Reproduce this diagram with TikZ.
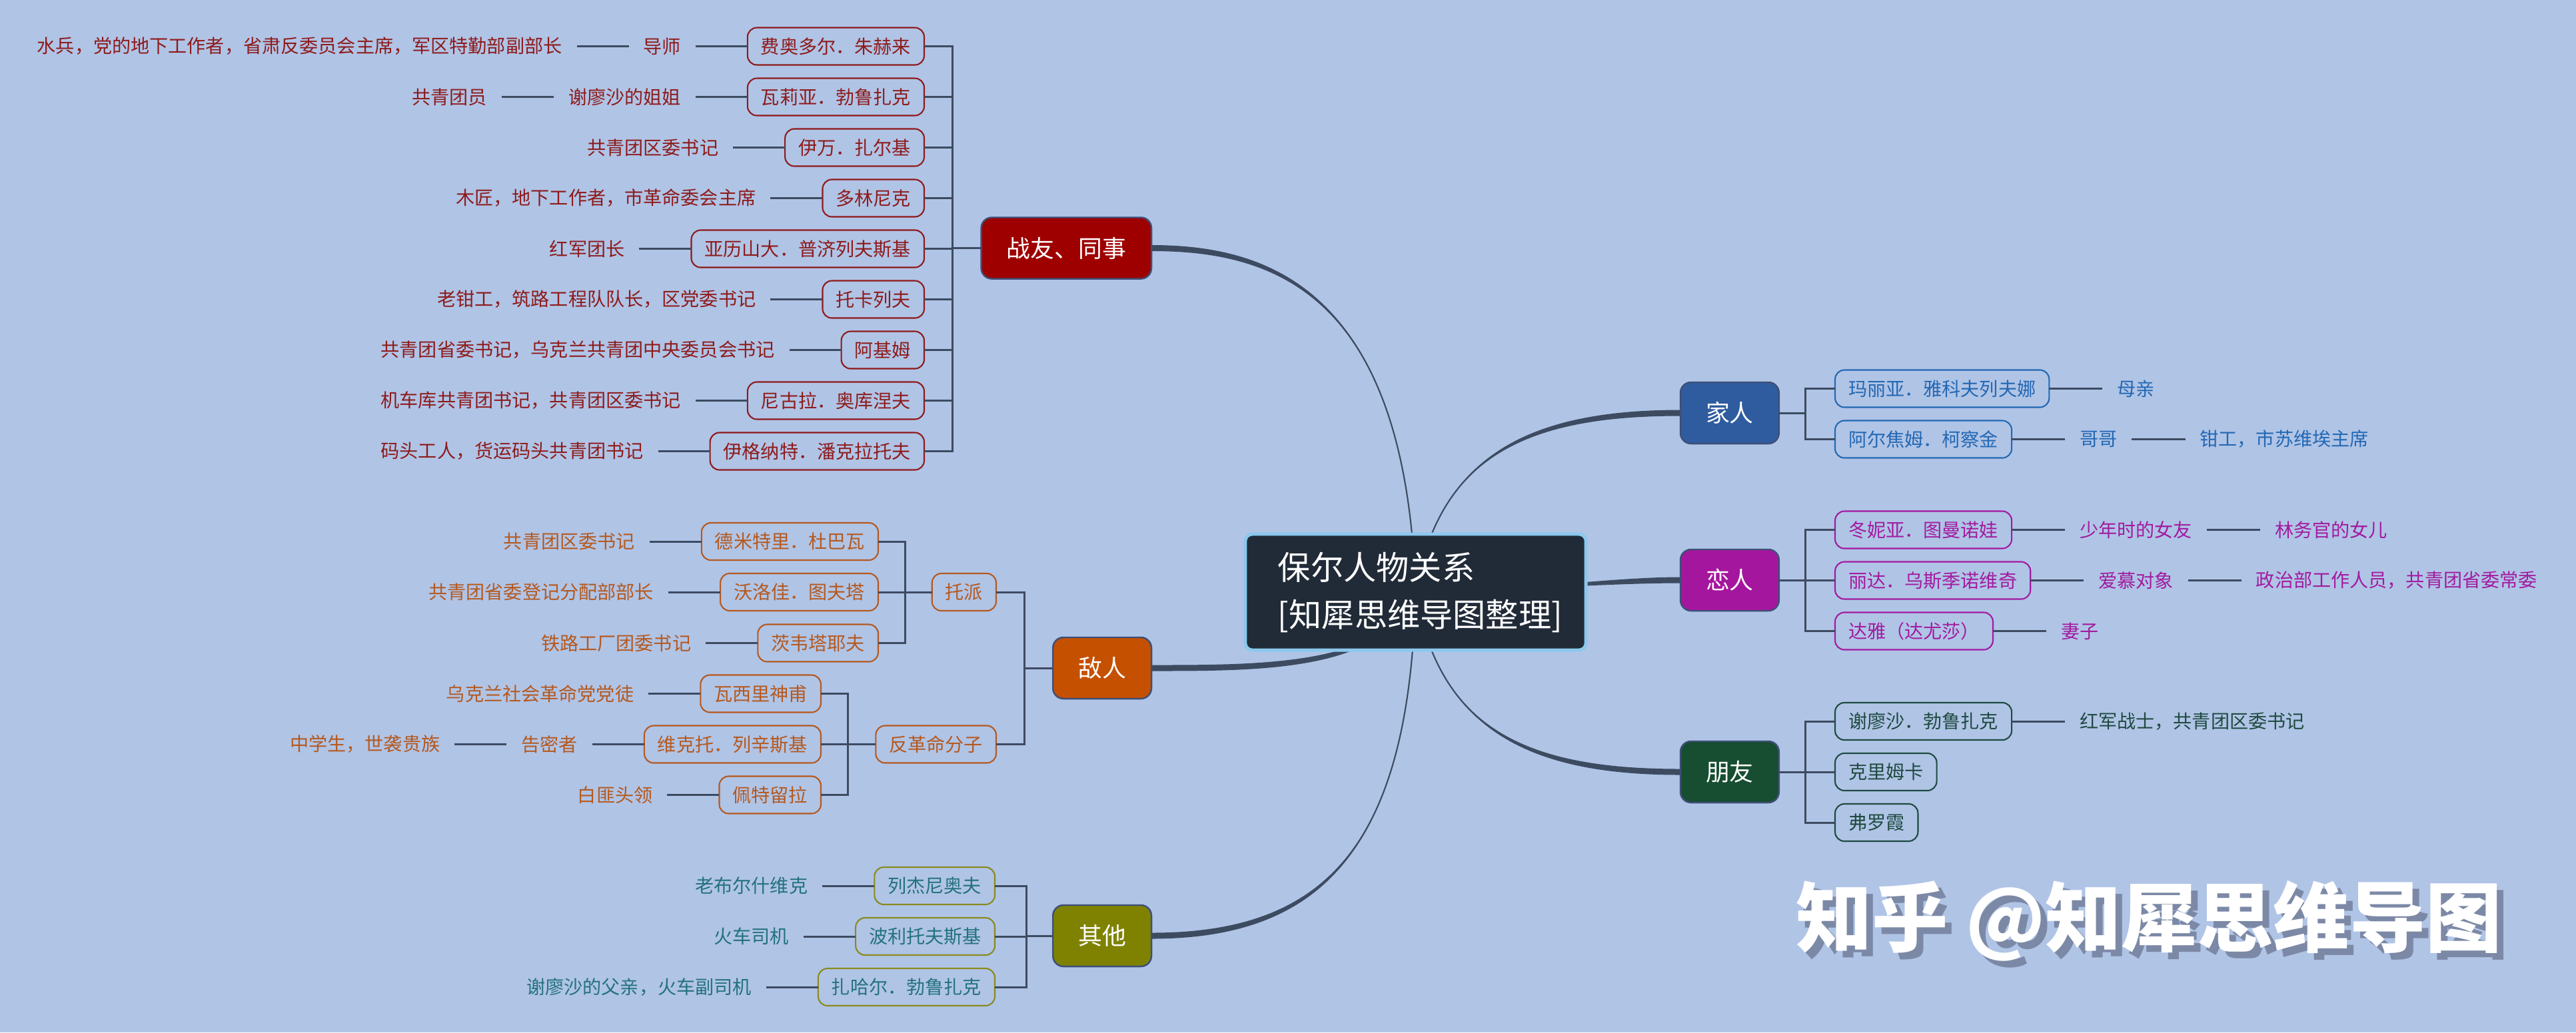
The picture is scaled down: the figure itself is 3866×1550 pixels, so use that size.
\documentclass[tikz,border=0pt]{standalone}
\usepackage{fontspec}
\setmainfont{Noto Sans CJK SC}
\usetikzlibrary{backgrounds}
\definecolor{bgc}{HTML}{B0C4E6}
\definecolor{linec}{HTML}{3D4B61}
\definecolor{catbd}{HTML}{3E4F78}
\definecolor{zyfill}{HTML}{9E0000}
\definecolor{zyc}{HTML}{8E1B1B}
\definecolor{drfill}{HTML}{C55000}
\definecolor{drc}{HTML}{B5591F}
\definecolor{qtfill}{HTML}{7F8200}
\definecolor{qtc}{HTML}{23727D}
\definecolor{qtbd}{HTML}{8A8A1E}
\definecolor{jrfill}{HTML}{2E5C9E}
\definecolor{jrc}{HTML}{2368B3}
\definecolor{lrfill}{HTML}{A5169E}
\definecolor{lrc}{HTML}{A21BA0}
\definecolor{pyfill}{HTML}{174D30}
\definecolor{pyc}{HTML}{1F4A40}
\definecolor{mainc}{HTML}{212B38}
\definecolor{mainbd}{HTML}{8CC8EE}
\definecolor{shadowc}{HTML}{7C89A6}
\begin{document}
\begin{tikzpicture}[x=0.01cm,y=-0.01cm,
  conn/.style={draw=linec, line width=0.85pt},
  catbox/.style={rounded corners=4.5pt, minimum height=0.92cm, inner xsep=0.38cm, inner ysep=0pt, outer sep=0pt, text=white, font=\fontsize{10.2}{12}\selectfont, draw=catbd, line width=0.7pt},
  kid/.style={rounded corners=4pt, minimum height=0.56cm, inner xsep=0.2cm, inner ysep=0pt, outer sep=0pt, line width=0.6pt, font=\fontsize{8}{9.6}\selectfont},
  lbl/.style={inner xsep=0.22cm, inner ysep=0pt, outer sep=0pt, font=\fontsize{8}{9.6}\selectfont},
  zk/.style={kid, draw=zyc, text=zyc}, zl/.style={lbl, text=zyc},
  dk/.style={kid, draw=drc, text=drc}, dl/.style={lbl, text=drc},
  qk/.style={kid, draw=qtbd, text=qtc}, ql/.style={lbl, text=qtc},
  jk/.style={kid, draw=jrc, text=jrc}, jl/.style={lbl, text=jrc},
  lk/.style={kid, draw=lrc, text=lrc}, ll/.style={lbl, text=lrc},
  pk/.style={kid, draw=pyc, text=pyc}, pl/.style={lbl, text=pyc},
  mainbox/.style={fill=mainc, draw=mainbd, line width=1.4pt, rounded corners=3pt, text=white, align=left, text width=4.13cm, inner xsep=0.49cm, inner ysep=0pt, minimum height=1.74cm, outer sep=0pt, font=\fontsize{14}{20.2}\selectfont},
  wmark/.style={font=\fontsize{32.5}{36}\selectfont\bfseries, inner sep=0pt}
]
\useasboundingbox (0,0) rectangle (3866,1550);

% main node
\node[mainbox] (m) at (2124.5,889) {保尔人物关系\\{[}知犀思维导图整理{]}};

% ---------- 战友、同事 ----------
\node[catbox, fill=zyfill, anchor=east] (zy) at (1728,372.5) {战友、同事};
\node[zk, anchor=east] (z1) at (1387,69.5) {费奥多尔．朱赫来};
\node[zk, anchor=east] (z2) at (1387,145.5) {瓦莉亚．勃鲁扎克};
\node[zk, anchor=east] (z3) at (1387,221.5) {伊万．扎尔基};
\node[zk, anchor=east] (z4) at (1387,297.5) {多林尼克};
\node[zk, anchor=east] (z5) at (1387,373.5) {亚历山大．普济列夫斯基};
\node[zk, anchor=east] (z6) at (1387,449.5) {托卡列夫};
\node[zk, anchor=east] (z7) at (1387,525.5) {阿基姆};
\node[zk, anchor=east] (z8) at (1387,601.5) {尼古拉．奥库涅夫};
\node[zk, anchor=east] (z9) at (1387,677.5) {伊格纳特．潘克拉托夫};
\foreach \c in {z1,z2,z3,z4,z5,z6,z7,z8,z9} \draw[conn] (zy.west) -- ++(-43,0) |- (\c.east);

\node[zl, anchor=east] (z1a) at ([xshift=-0.78cm]z1.west) {导师};
\node[zl, anchor=east] (z1b) at ([xshift=-0.78cm]z1a.west) {水兵，党的地下工作者，省肃反委员会主席，军区特勤部副部长};
\node[zl, anchor=east] (z2a) at ([xshift=-0.78cm]z2.west) {谢廖沙的姐姐};
\node[zl, anchor=east] (z2b) at ([xshift=-0.78cm]z2a.west) {共青团员};
\node[zl, anchor=east] (z3a) at ([xshift=-0.78cm]z3.west) {共青团区委书记};
\node[zl, anchor=east] (z4a) at ([xshift=-0.78cm]z4.west) {木匠，地下工作者，市革命委会主席};
\node[zl, anchor=east] (z5a) at ([xshift=-0.78cm]z5.west) {红军团长};
\node[zl, anchor=east] (z6a) at ([xshift=-0.78cm]z6.west) {老钳工，筑路工程队队长，区党委书记};
\node[zl, anchor=east] (z7a) at ([xshift=-0.78cm]z7.west) {共青团省委书记，乌克兰共青团中央委员会书记};
\node[zl, anchor=east] (z8a) at ([xshift=-0.78cm]z8.west) {机车库共青团书记，共青团区委书记};
\node[zl, anchor=east] (z9a) at ([xshift=-0.78cm]z9.west) {码头工人，货运码头共青团书记};
\draw[conn] (z1.west) -- (z1a.east);
\draw[conn] (z1a.west) -- (z1b.east);
\draw[conn] (z2.west) -- (z2a.east);
\draw[conn] (z2a.west) -- (z2b.east);
\draw[conn] (z3.west) -- (z3a.east);
\draw[conn] (z4.west) -- (z4a.east);
\draw[conn] (z5.west) -- (z5a.east);
\draw[conn] (z6.west) -- (z6a.east);
\draw[conn] (z7.west) -- (z7a.east);
\draw[conn] (z8.west) -- (z8a.east);
\draw[conn] (z9.west) -- (z9a.east);

% ---------- 敌人 ----------
\node[catbox, fill=drfill, anchor=east] (dr) at (1728,1003) {敌人};
\node[dk, anchor=east] (tp) at (1495,889) {托派};
\node[dk, anchor=east] (fg) at (1495,1117.5) {反革命分子};
\draw[conn] (dr.west) -- ++(-43,0) |- (tp.east);
\draw[conn] (dr.west) -- ++(-43,0) |- (fg.east);
\node[dk, anchor=east] (d1) at (1318,813) {德米特里．杜巴瓦};
\node[dk, anchor=east] (d2) at (1318,889) {沃洛佳．图夫塔};
\node[dk, anchor=east] (d3) at (1318,965.5) {茨韦塔耶夫};
\foreach \c in {d1,d2,d3} \draw[conn] (tp.west) -- ++(-40,0) |- (\c.east);
\node[dk, anchor=east] (d4) at (1232,1041.5) {瓦西里神甫};
\node[dk, anchor=east] (d5) at (1232,1117.5) {维克托．列辛斯基};
\node[dk, anchor=east] (d6) at (1232,1193.5) {佩特留拉};
\foreach \c in {d4,d5,d6} \draw[conn] (fg.west) -- ++(-42,0) |- (\c.east);
\node[dl, anchor=east] (d1a) at ([xshift=-0.78cm]d1.west) {共青团区委书记};
\node[dl, anchor=east] (d2a) at ([xshift=-0.78cm]d2.west) {共青团省委登记分配部部长};
\node[dl, anchor=east] (d3a) at ([xshift=-0.78cm]d3.west) {铁路工厂团委书记};
\node[dl, anchor=east] (d4a) at ([xshift=-0.78cm]d4.west) {乌克兰社会革命党党徒};
\node[dl, anchor=east] (d5a) at ([xshift=-0.78cm]d5.west) {告密者};
\node[dl, anchor=east] (d5b) at ([xshift=-0.78cm]d5a.west) {中学生，世袭贵族};
\node[dl, anchor=east] (d6a) at ([xshift=-0.78cm]d6.west) {白匪头领};
\draw[conn] (d1.west) -- (d1a.east);
\draw[conn] (d2.west) -- (d2a.east);
\draw[conn] (d3.west) -- (d3a.east);
\draw[conn] (d4.west) -- (d4a.east);
\draw[conn] (d5.west) -- (d5a.east);
\draw[conn] (d5a.west) -- (d5b.east);
\draw[conn] (d6.west) -- (d6a.east);

% ---------- 其他 ----------
\node[catbox, fill=qtfill, anchor=east] (qt) at (1728,1405) {其他};
\node[qk, anchor=east] (q1) at (1493,1330) {列杰尼奥夫};
\node[qk, anchor=east] (q2) at (1493,1406) {波利托夫斯基};
\node[qk, anchor=east] (q3) at (1493,1482) {扎哈尔．勃鲁扎克};
\foreach \c in {q1,q2,q3} \draw[conn] (qt.west) -- ++(-40,0) |- (\c.east);
\node[ql, anchor=east] (q1a) at ([xshift=-0.78cm]q1.west) {老布尔什维克};
\node[ql, anchor=east] (q2a) at ([xshift=-0.78cm]q2.west) {火车司机};
\node[ql, anchor=east] (q3a) at ([xshift=-0.78cm]q3.west) {谢廖沙的父亲，火车副司机};
\draw[conn] (q1.west) -- (q1a.east);
\draw[conn] (q2.west) -- (q2a.east);
\draw[conn] (q3.west) -- (q3a.east);

% ---------- 家人 ----------
\node[catbox, fill=jrfill, anchor=west] (jr) at (2522,620) {家人};
\node[jk, anchor=west] (j1) at (2754,583.5) {玛丽亚．雅科夫列夫娜};
\node[jk, anchor=west] (j2) at (2754,659.5) {阿尔焦姆．柯察金};
\foreach \c in {j1,j2} \draw[conn] (jr.east) -- ++(40,0) |- (\c.west);
\node[jl, anchor=west] (j1a) at ([xshift=0.8cm]j1.east) {母亲};
\node[jl, anchor=west] (j2a) at ([xshift=0.8cm]j2.east) {哥哥};
\node[jl, anchor=west] (j2b) at ([xshift=0.8cm]j2a.east) {钳工，市苏维埃主席};
\draw[conn] (j1.east) -- (j1a.west);
\draw[conn] (j2.east) -- (j2a.west);
\draw[conn] (j2a.east) -- (j2b.west);

% ---------- 恋人 ----------
\node[catbox, fill=lrfill, anchor=west] (lr) at (2522,871) {恋人};
\node[lk, anchor=west] (l1) at (2754,795.5) {冬妮亚．图曼诺娃};
\node[lk, anchor=west] (l2) at (2754,871.5) {丽达．乌斯季诺维奇};
\node[lk, anchor=west] (l3) at (2754,947.5) {达雅（达尤莎）};
\foreach \c in {l1,l2,l3} \draw[conn] (lr.east) -- ++(40,0) |- (\c.west);
\node[ll, anchor=west] (l1a) at ([xshift=0.8cm]l1.east) {少年时的女友};
\node[ll, anchor=west] (l1b) at ([xshift=0.8cm]l1a.east) {林务官的女儿};
\node[ll, anchor=west] (l2a) at ([xshift=0.8cm]l2.east) {爱慕对象};
\node[ll, anchor=west] (l2b) at ([xshift=0.8cm]l2a.east) {政治部工作人员，共青团省委常委};
\node[ll, anchor=west] (l3a) at ([xshift=0.8cm]l3.east) {妻子};
\draw[conn] (l1.east) -- (l1a.west);
\draw[conn] (l1a.east) -- (l1b.west);
\draw[conn] (l2.east) -- (l2a.west);
\draw[conn] (l2a.east) -- (l2b.west);
\draw[conn] (l3.east) -- (l3a.west);

% ---------- 朋友 ----------
\node[catbox, fill=pyfill, anchor=west] (py) at (2522,1159) {朋友};
\node[pk, anchor=west] (p1) at (2754,1083) {谢廖沙．勃鲁扎克};
\node[pk, anchor=west] (p2) at (2754,1159) {克里姆卡};
\node[pk, anchor=west] (p3) at (2754,1235) {弗罗霞};
\foreach \c in {p1,p2,p3} \draw[conn] (py.east) -- ++(40,0) |- (\c.west);
\node[pl, anchor=west] (p1a) at ([xshift=0.8cm]p1.east) {红军战士，共青团区委书记};
\draw[conn] (p1.east) -- (p1a.west);

% ---------- watermark ----------
\node[wmark, text=shadowc] (wms) at (3235,1393) {知乎 @知犀思维导图};
\node[wmark, text=white] (wm) at (3225,1383) {知乎 @知犀思维导图};

% ---------- background and main curves ----------
\begin{scope}[on background layer]
\fill[bgc] (0,0) rectangle (3866,1550);
\fill[linec] (m.center) .. controls (2110,430) and (1900,368) .. ([yshift=0.045cm]zy.east) -- ([yshift=-0.045cm]zy.east) .. controls (1900,377) and (2110,430) .. (m.center);
\draw[linec, line width=0.6pt] (m.center) .. controls (2110,430) and (1900,372.5) .. (zy.east);
\fill[linec] (m.center) .. controls (2080,998.5) and (1900,998.5) .. ([yshift=0.045cm]dr.east) -- ([yshift=-0.045cm]dr.east) .. controls (1900,1007.5) and (2080,1007.5) .. (m.center);
\draw[linec, line width=0.6pt] (m.center) .. controls (2080,1003) and (1900,1003) .. (dr.east);
\fill[linec] (m.center) .. controls (2115,1280) and (1980,1400.5) .. ([yshift=0.045cm]qt.east) -- ([yshift=-0.045cm]qt.east) .. controls (1980,1409.5) and (2115,1280) .. (m.center);
\draw[linec, line width=0.6pt] (m.center) .. controls (2115,1280) and (1980,1405) .. (qt.east);
\fill[linec] (m.center) .. controls (2160,680) and (2300,615.5) .. ([yshift=0.045cm]jr.west) -- ([yshift=-0.045cm]jr.west) .. controls (2300,624.5) and (2160,680) .. (m.center);
\draw[linec, line width=0.6pt] (m.center) .. controls (2160,680) and (2300,620) .. (jr.west);
\fill[linec] (m.center) .. controls (2300,885) and (2420,866.5) .. ([yshift=0.045cm]lr.west) -- ([yshift=-0.045cm]lr.west) .. controls (2420,875.5) and (2300,885) .. (m.center);
\draw[linec, line width=0.6pt] (m.center) .. controls (2300,885) and (2420,871) .. (lr.west);
\fill[linec] (m.center) .. controls (2160,1100) and (2300,1154.5) .. ([yshift=0.045cm]py.west) -- ([yshift=-0.045cm]py.west) .. controls (2300,1163.5) and (2160,1100) .. (m.center);
\draw[linec, line width=0.6pt] (m.center) .. controls (2160,1100) and (2300,1159) .. (py.west);
\end{scope}
\end{tikzpicture}
\end{document}
